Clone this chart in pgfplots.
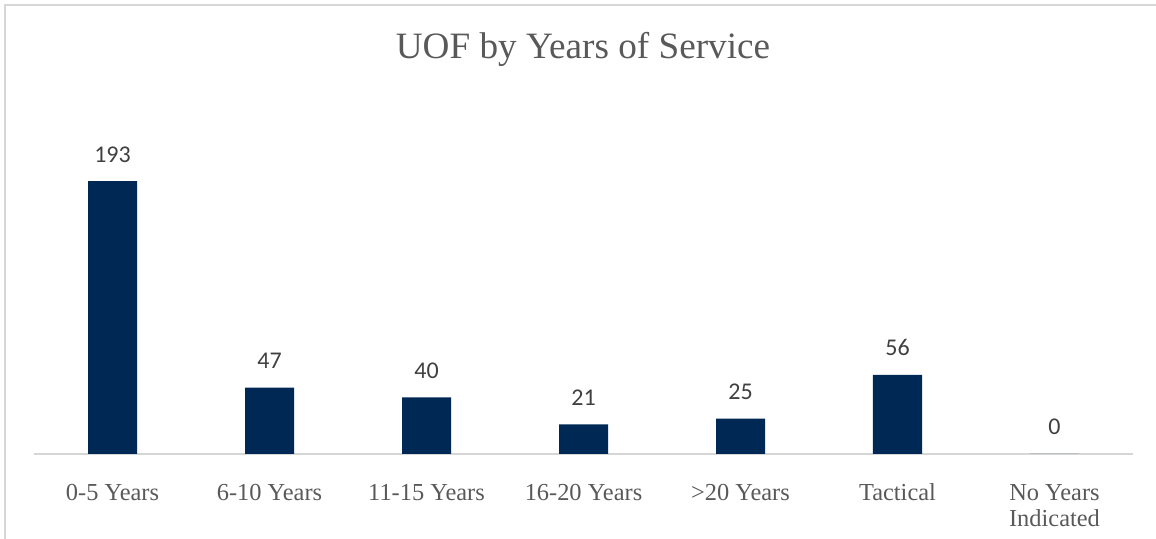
\documentclass[border=0pt]{standalone}
\usepackage{pgfplots}
\pgfplotsset{compat=1.18}
\usepackage{fontspec}
\setmainfont{Liberation Serif}
\newfontfamily\calibri{Carlito}
\definecolor{barblue}{RGB}{0,40,85}
\definecolor{txtgray}{RGB}{89,89,89}
\definecolor{lblgray}{RGB}{64,64,64}
\definecolor{framegray}{RGB}{214,214,214}
\begin{document}
\begin{tikzpicture}
  \useasboundingbox (0pt,0pt) rectangle (578pt,269.5pt);
  % chart frame (cut off at right and bottom)
  \fill[framegray] (1.9pt,0pt) rectangle (2.9pt,267.5pt);
  \fill[framegray] (1.9pt,266.6pt) rectangle (578pt,267.5pt);
  \node[anchor=base, font=\fontsize{18.6}{22}\selectfont, text=txtgray] at (291.5pt,240pt) {UOF by Years of Service};
  \begin{axis}[
      at={(17pt,42.5pt)}, anchor=south west,
      scale only axis,
      width=549.5pt, height=141.4pt,
      xmin=-0.5, xmax=6.5,
      ymin=0, ymax=200,
      axis y line=none,
      axis x line*=bottom,
      x axis line style={-, draw=framegray, line width=1pt},
      xtick={0,1,2,3,4,5,6},
      xticklabels={0-5 Years, 6-10 Years, 11-15 Years, 16-20 Years, >20 Years, Tactical,
        {\begin{tabular}[t]{@{}c@{}}No Years\\Indicated\end{tabular}}},
      xtick style={draw=none},
      xticklabel style={anchor=base, yshift=-18.8pt, text=txtgray,
        font=\fontsize{12.2}{13}\selectfont},
      ybar, bar width=24.5pt,
      clip=false,
      /pgf/number format/assume math mode=true,
      nodes near coords,
      nodes near coords style={anchor=base, yshift=9.5pt, text=lblgray,
        font=\calibri\fontsize{12}{14}\selectfont},
    ]
    \addplot[fill=barblue, draw=none] coordinates {
      (0,193) (1,47) (2,40) (3,21) (4,25) (5,56) (6,0)
    };
  \end{axis}
\end{tikzpicture}
\end{document}
